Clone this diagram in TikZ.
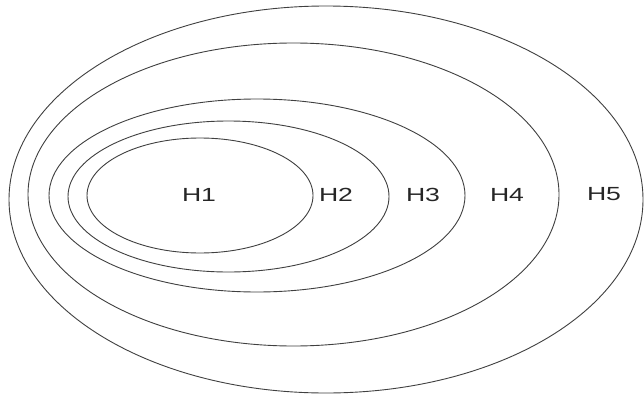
\documentclass[tikz,border=0pt]{standalone}
\usepackage{fontspec}
\setmainfont{Liberation Sans}
\usepackage{tikz}
\usetikzlibrary{positioning}
\tikzset{
	hypring/.style={draw=black!75, line width=0.9pt},
	hyplabel/.style={font=\fontsize{19}{20}\selectfont, xscale=1.4, text=black!85, inner sep=0pt}
}

\begin{document}
\begin{tikzpicture}[x=1pt, y=-1pt]
			\fill[white] (0,0) rectangle (644,396);
			\useasboundingbox (0,0) rectangle (644,396);
			% nested ellipses, innermost first
			\draw[hypring] (200,195.5) ellipse [x radius=113, y radius=57.5];
			\draw[hypring] (228.5,196.5) ellipse [x radius=160.5, y radius=75.5];
			\draw[hypring] (257,195.5) ellipse [x radius=208, y radius=96.5];
			\draw[hypring] (293.5,194.5) ellipse [x radius=265.5, y radius=151.5];
			\draw[hypring] (326,199.5) ellipse [x radius=317, y radius=193.5];
			% labels
			\node[hyplabel] (h1) at (199,194.5) {H1};
			\node[hyplabel] (h2) at (336,194.5) {H2};
			\node[hyplabel] (h3) at (423,194.5) {H3};
			\node[hyplabel] (h4) at (507,194.5) {H4};
			\node[hyplabel] (h5) at (604,194.5) {H5};
		\end{tikzpicture}
\end{document}
